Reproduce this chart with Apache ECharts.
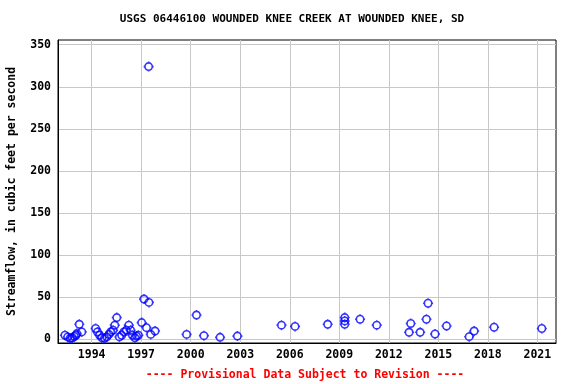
<!DOCTYPE html>
<html>
<head>
<meta charset="utf-8">
<script src="https://cdn.jsdelivr.net/npm/echarts@6/dist/echarts.min.js"></script>
<style>
html,body{margin:0;padding:0;background:#fff;}
#chart{width:576px;height:384px;}
</style>
</head>
<body>
<div id="chart"></div>
<script>
// Decimal year of each measurement
const years = [
  1992.38, 1992.55, 1992.70, 1992.83, 1992.95, 1993.05, 1993.10, 1993.25, 1993.40,
  1994.24, 1994.35, 1994.48, 1994.62, 1994.78, 1994.92, 1995.05, 1995.15, 1995.30,
  1995.40, 1995.52, 1995.68, 1995.82, 1995.95, 1996.10, 1996.25, 1996.36, 1996.47,
  1996.62, 1996.72, 1996.83, 1997.03, 1997.17, 1997.32, 1997.45, 1997.47, 1997.58,
  1997.84,
  1999.75, 2000.35, 2000.80, 2001.78, 2002.83, 2005.50, 2006.32, 2008.30,
  2009.33, 2009.33, 2009.33, 2010.26, 2011.27, 2013.23, 2013.33, 2013.90,
  2014.28, 2014.38, 2014.80, 2015.50, 2016.87, 2017.17, 2018.38, 2021.27
];
// Streamflow, cubic feet per second
const flows = [
  5, 3, 1.5, 2, 3.5, 5, 7, 18, 9,
  13, 9, 5, 2, 1.5, 3, 6, 9, 11,
  17, 26, 3, 5, 9, 11, 17, 11, 5,
  2, 4, 5, 20, 48, 14, 324, 44, 6,
  10,
  6, 29, 4.5, 2.5, 4, 17, 15.5, 18,
  26, 22, 18, 24, 17, 8.5, 19, 8.5,
  24, 43, 6.5, 16, 3.3, 10, 14.5, 13
];
const yearTickBase = 1994;   // x tick labels: 1994, 1997, ... 2021
const yearTickStep = 3;
const flowTickStep = 50;     // y tick labels: 0 ... 350

const titleText = 'USGS 06446100 WOUNDED KNEE CREEK AT WOUNDED KNEE, SD';
const footerText = '---- Provisional Data Subject to Revision ----';
const yName = 'Streamflow, in cubic feet per second';

const FONT = '"DejaVu Sans Mono", monospace';
const points = years.map((y, i) => [y, flows[i]]);

// open circle with four very short tick marks
const markerPath = 'path://M5,0L5,1.3M5,8.7L5,10M0,5L1.3,5M8.7,5L10,5' +
  'M8.7,5C8.7,7.043 7.043,8.7 5,8.7C2.957,8.7 1.3,7.043 1.3,5C1.3,2.957 2.957,1.3 5,1.3C7.043,1.3 8.7,2.957 8.7,5Z';

const chart = echarts.init(document.getElementById('chart'), null, {renderer: 'canvas'});
chart.setOption({
  animation: false,
  backgroundColor: '#ffffff',
  grid: {left: 58, right: 20, top: 40, bottom: 41, containLabel: false, outerBoundsMode: 'none',
    show: true, borderColor: '#000', borderWidth: 1, backgroundColor: 'transparent'},
  xAxis: [
    {type: 'value', min: 1991.96, max: 2022.13, show: false},
    {type: 'value', min: 1991.96 - yearTickBase, max: 2022.13 - yearTickBase,
     minInterval: yearTickStep, maxInterval: yearTickStep, splitNumber: 10,
     position: 'bottom',
     axisLine: {show: true, onZero: false, lineStyle: {color: '#000', width: 1}},
     axisTick: {show: false},
     axisLabel: {show: true, margin: 6, color: '#000', fontFamily: FONT, fontWeight: 'bold', fontSize: 11.5,
       showMinLabel: false, showMaxLabel: false,
       formatter: v => String(Math.round(v + yearTickBase))},
     splitLine: {show: true, showMinLine: false, showMaxLine: false, lineStyle: {color: '#c8c8c8', width: 1}}
    }
  ],
  yAxis: {
    type: 'value', min: -4.2, max: 355.6, minInterval: flowTickStep, maxInterval: flowTickStep, splitNumber: 7,
    name: yName, nameLocation: 'middle', nameGap: 40, nameRotate: 90,
    nameTextStyle: {color: '#000', fontFamily: FONT, fontWeight: 'bold', fontSize: 11.5},
    axisLine: {show: true, onZero: false, lineStyle: {color: '#000', width: 1}},
    axisTick: {show: false},
    axisLabel: {margin: 7, color: '#000', fontFamily: FONT, fontWeight: 'bold', fontSize: 11.5,
      showMinLabel: false, showMaxLabel: false},
    splitLine: {show: true, showMinLine: false, showMaxLine: false, lineStyle: {color: '#c8c8c8', width: 1}}
  },
  series: [{
    type: 'scatter',
    xAxisIndex: 0,
    data: points,
    symbol: markerPath,
    symbolSize: 10,
    symbolKeepAspect: true,
    itemStyle: {color: 'transparent', borderColor: '#0000ff', borderWidth: 1.6},
    z: 5
  }],
  graphic: [
    {type: 'text', x: 292, y: 19, style: {text: titleText, fill: '#000', font: 'bold 11px ' + FONT, textAlign: 'center', textVerticalAlign: 'middle'}},
    {type: 'text', x: 305, y: 375, style: {text: footerText, fill: '#ff0000', font: 'bold 11.5px ' + FONT, textAlign: 'center', textVerticalAlign: 'middle'}}
  ]
});
</script>
</body>
</html>
